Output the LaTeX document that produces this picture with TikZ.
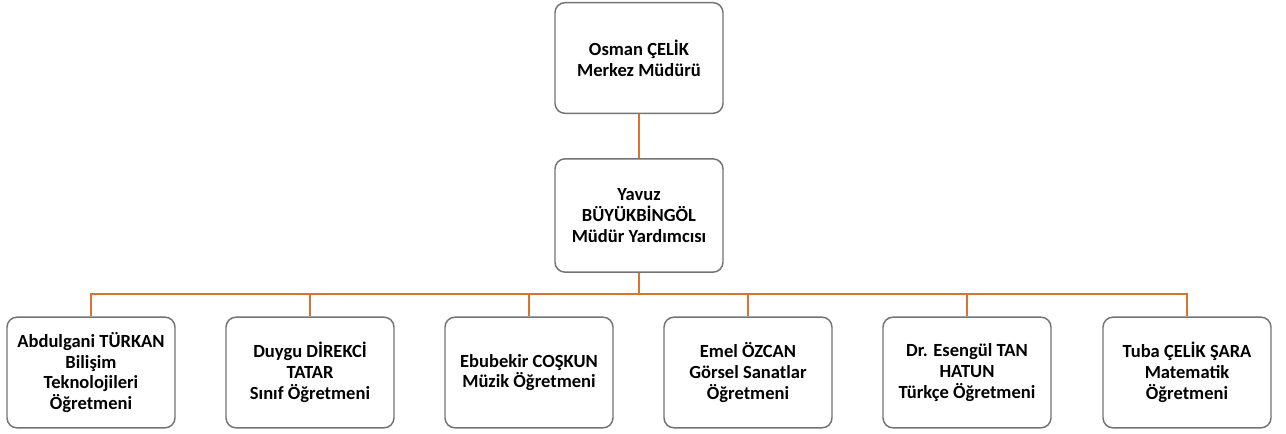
\documentclass[tikz,border=0pt]{standalone}
\usepackage{fontspec}
\setmainfont{Carlito}
\usepackage{tikz}
\usetikzlibrary{positioning, calc}
\definecolor{lineOrange}{RGB}{220,115,45}
\definecolor{boxGray}{gray}{0.45}

\begin{document}
\begin{tikzpicture}[x=0.75pt, y=-0.75pt,
    box/.style={draw=boxGray, line width=1.1pt, rounded corners=7.5pt, fill=white,
        minimum width=126pt, minimum height=83pt, align=center, inner sep=2pt,
        font=\fontsize{13.9}{15.6}\selectfont\bfseries},
    link/.style={draw=lineOrange, line width=2pt}]
    \useasboundingbox (0,0) rectangle (1286,433);

    % management
    \node[box] (mgr) at (639,58) {Osman ÇELİK\\Merkez Müdürü};
    \node[box, minimum height=85pt] (vice) at (639,215.5) {Yavuz\\BÜYÜKBİNGÖL\\Müdür Yardımcısı};

    % teachers
    \node[box] (t1) at (91,372.5) {Abdulgani TÜRKAN\\Bilişim\\Teknolojileri\\Öğretmeni};
    \node[box] (t2) at (310,372.5) {Duygu DİREKCİ\\TATAR\\Sınıf Öğretmeni};
    \node[box] (t3) at (529,372.5) {Ebubekir COŞKUN\\Müzik Öğretmeni};
    \node[box] (t4) at (748,372.5) {Emel ÖZCAN\\Görsel Sanatlar\\Öğretmeni};
    \node[box] (t5) at (967,372.5) {Dr. Esengül TAN\\HATUN\\Türkçe Öğretmeni};
    \node[box] (t6) at (1187,372.5) {Tuba ÇELİK ŞARA\\Matematik\\Öğretmeni};

    % connectors
    \coordinate (bus) at (639,294);
    \draw[link] (mgr) -- (vice);
    \draw[link] (vice) -- (bus);
    \foreach \i in {1,...,6}
        \draw[link] (bus) -| (t\i.north);
\end{tikzpicture}
\end{document}
